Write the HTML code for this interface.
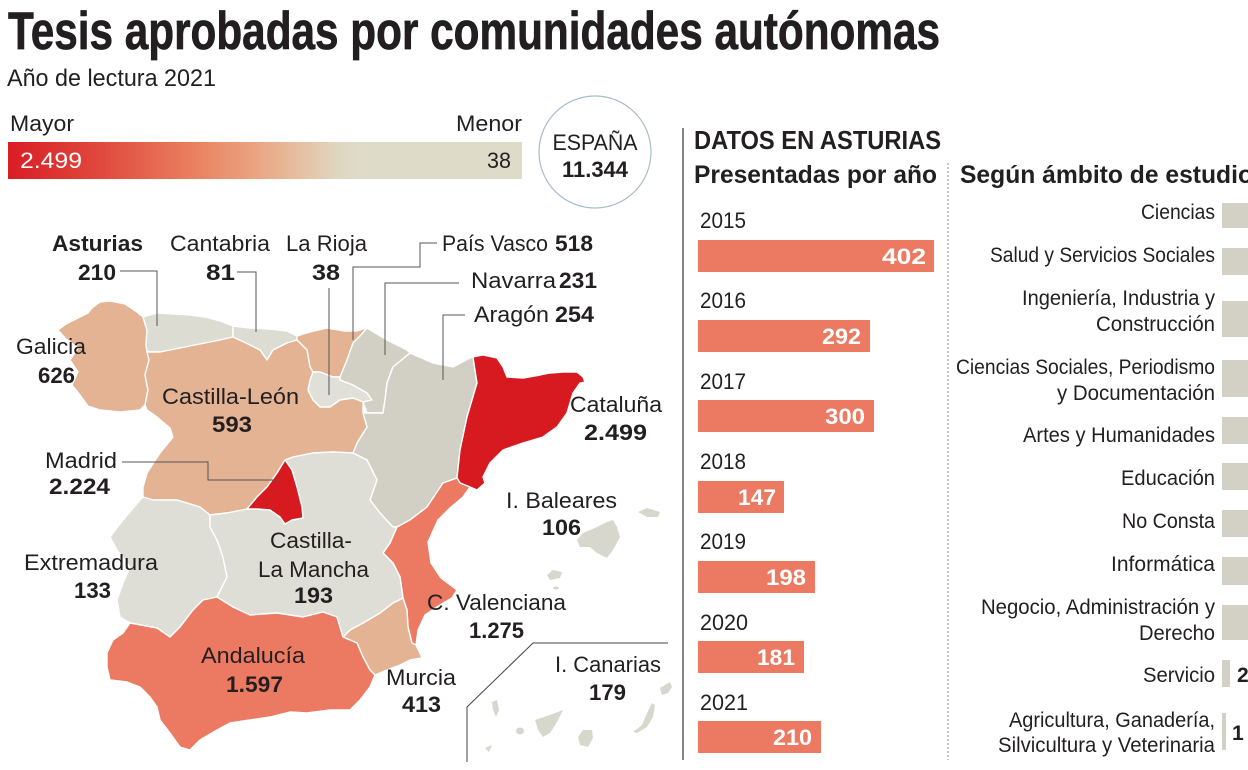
<!DOCTYPE html>
<html>
<head>
<meta charset="utf-8">
<style>
html,body{margin:0;padding:0;background:#fff;}
body{width:1248px;height:770px;overflow:hidden;}
svg{display:block;}
text{font-family:"Liberation Sans",Arial,sans-serif;fill:#231f20;}
.b{font-weight:bold;}
.w{fill:#fff;}
</style>
</head>
<body>
<svg width="1248" height="770" viewBox="0 0 1248 770" xmlns="http://www.w3.org/2000/svg">
<defs>
<linearGradient id="g" x1="0" y1="0" x2="1" y2="0">
<stop offset="0" stop-color="#d91d25"/>
<stop offset="0.18" stop-color="#e0493d"/>
<stop offset="0.36" stop-color="#e9805f"/>
<stop offset="0.50" stop-color="#e9aa88"/>
<stop offset="0.58" stop-color="#e5c3a6"/>
<stop offset="0.64" stop-color="#dfd6c1"/>
<stop offset="0.68" stop-color="#dfdbc9"/>
<stop offset="1" stop-color="#dfdbc9"/>
</linearGradient>
</defs>

<!-- Title -->
<text x="8" y="49" font-size="53" class="b" textLength="932" lengthAdjust="spacingAndGlyphs" fill="#1a1a1a" stroke="#1a1a1a" stroke-width="0.7">Tesis aprobadas por comunidades autónomas</text>
<text x="7" y="86" font-size="24" textLength="209" lengthAdjust="spacingAndGlyphs">Año de lectura 2021</text>

<!-- Legend -->
<text x="10" y="131" font-size="22" textLength="64" lengthAdjust="spacingAndGlyphs">Mayor</text>
<text x="522" y="131" font-size="22" text-anchor="end" textLength="66" lengthAdjust="spacingAndGlyphs">Menor</text>
<rect x="8" y="142" width="514" height="37" fill="url(#g)"/>
<text x="20" y="168" font-size="22" class="w" textLength="62" lengthAdjust="spacingAndGlyphs">2.499</text>
<text x="511" y="168" font-size="22" text-anchor="end" textLength="24" lengthAdjust="spacingAndGlyphs" fill="#333">38</text>

<circle cx="595" cy="152" r="56" fill="none" stroke="#a9bcc8" stroke-width="1.2"/>
<text x="595" y="150" font-size="22" text-anchor="middle" textLength="85" lengthAdjust="spacingAndGlyphs">ESPAÑA</text>
<text x="595" y="177" font-size="22" class="b" text-anchor="middle" textLength="66" lengthAdjust="spacingAndGlyphs">11.344</text>

<!-- Map -->
<g stroke="#fff" stroke-width="1.4" stroke-linejoin="round">
<path fill="#e3b393" d="M92,308 L100,302 L110,301 L125,304 L137,312 L143,317 L147,330 L146,345 L149,360 L145,375 L148,390 L145,405 L140,410 L120,412 L100,410 L88,406 L80,395 L72,385 L78,372 L70,360 L78,348 L65,338 L58,330 L66,324 L78,318 L88,313 Z"/>
<path fill="#dddcd3" d="M143,317 L157,313 L175,314 L190,315 L205,317 L220,321 L233,326 L233,337 L220,340 L205,343 L190,346 L175,349 L160,352 L147,352 L146,345 L147,330 Z"/>
<path fill="#dddcd3" d="M233,326 L250,328 L270,329 L287,331 L297,336 L297,340 L287,343 L273,350 L267,360 L260,350 L248,344 L233,337 Z"/>
<path fill="#e3b393" d="M297,336 L310,332 L327,328 L345,331 L357,331 L367,328 L360,336 L353,343 L347,360 L340,377 L333,377 L320,372 L313,372 L310,367 L307,350 L297,340 Z"/>
<path fill="#e0dfd8" d="M313,372 L320,372 L333,377 L340,377 L340,380 L353,385 L367,393 L372,400 L363,402 L353,398 L340,400 L330,407 L320,407 L313,400 L308,390 L310,380 Z"/>
<path fill="#d2d0c5" d="M367,328 L387,340 L407,350 L410,353 L393,367 L387,383 L385,400 L383,413 L367,413 L363,402 L372,400 L367,393 L353,385 L340,380 L340,377 L347,360 L353,343 L360,336 Z"/>
<path fill="#d2d0c5" d="M410,353 L433,363 L453,367 L470,358 L473,357 L477,383 L467,417 L460,450 L457,478 L443,483 L427,507 L410,520 L397,527 L393,527 L380,513 L370,500 L377,480 L367,460 L353,453 L357,443 L367,427 L363,413 L367,413 L383,413 L385,400 L387,383 L393,367 Z"/>
<path fill="#d71920" d="M473,357 L483,355 L497,358 L503,367 L507,377 L523,378 L540,375 L550,373 L563,372 L577,372 L583,377 L585,382 L580,383 L573,393 L567,413 L557,427 L543,437 L523,443 L503,450 L490,463 L483,477 L485,483 L477,490 L470,487 L460,483 L457,478 L460,450 L467,417 L477,383 Z"/>
<path fill="#ec7a62" d="M457,478 L460,483 L470,487 L463,497 L450,508 L438,520 L428,542 L431,563 L441,578 L457,590 L452,598 L440,605 L425,615 L418,630 L416,645 L412,643 L408,627 L407,610 L403,598 L400,577 L393,563 L383,553 L390,543 L397,527 L410,520 L427,507 L443,483 Z"/>
<path fill="#e3b393" d="M403,598 L407,610 L408,627 L412,643 L416,645 L420,653 L422,658 L410,660 L400,665 L387,670 L375,675 L370,670 L363,657 L357,643 L343,637 L350,630 L363,623 L380,613 L393,603 Z"/>
<path fill="#e3b393" d="M147,352 L160,352 L175,349 L190,346 L205,343 L220,340 L233,337 L248,344 L260,350 L267,360 L273,350 L287,343 L297,340 L307,350 L310,367 L313,372 L310,380 L308,390 L313,400 L320,407 L330,407 L340,400 L353,398 L363,402 L363,413 L367,427 L357,443 L353,453 L333,452 L313,453 L293,457 L285,460 L277,473 L267,487 L257,497 L247,509 L227,513 L210,515 L200,507 L177,500 L153,500 L143,497 L143,487 L147,473 L160,453 L173,437 L170,428 L157,417 L147,410 L145,405 L148,390 L145,375 L149,360 Z"/>
<path fill="#dfded6" d="M143,497 L153,500 L177,500 L200,507 L210,515 L210,527 L217,540 L223,557 L227,577 L217,597 L203,600 L193,610 L180,627 L170,637 L157,628 L130,623 L120,617 L117,600 L123,583 L130,567 L117,550 L110,537 L123,520 L140,500 Z"/>
<path fill="#dfded6" d="M210,515 L227,513 L247,509 L257,509 L270,510 L280,517 L285,524 L292,520 L303,518 L302,507 L297,487 L292,470 L285,460 L293,457 L313,453 L333,452 L353,453 L367,460 L377,480 L370,500 L380,513 L393,527 L397,527 L390,543 L383,553 L393,563 L400,577 L403,598 L393,603 L380,613 L363,623 L350,630 L343,637 L340,627 L337,617 L323,612 L303,617 L277,613 L250,615 L233,607 L217,597 L227,577 L223,557 L217,540 L210,527 Z"/>
<path fill="#d71920" d="M285,460 L292,470 L297,487 L302,507 L303,518 L292,520 L285,524 L280,517 L270,510 L257,509 L247,509 L257,497 L267,487 L277,473 Z"/>
<path fill="#ec7a62" d="M130,623 L157,628 L170,637 L180,627 L193,610 L203,600 L217,597 L233,607 L250,615 L277,613 L303,617 L323,612 L337,617 L340,627 L343,637 L357,643 L363,657 L370,670 L375,675 L370,687 L360,700 L350,710 L330,710 L307,713 L290,712 L270,717 L250,720 L230,723 L217,730 L200,740 L190,750 L180,747 L170,733 L160,720 L157,707 L150,697 L140,687 L127,682 L110,680 L107,667 L107,653 L113,640 L123,633 Z"/>
</g>

<!-- Balearics -->
<g fill="#d8d7cd">
<path d="M583,533 L597,527 L607,522 L613,520 L617,527 L620,537 L613,550 L607,558 L597,553 L590,547 L580,547 L577,540 Z"/>
<path d="M638,512 L647,508 L660,512 L658,517 L647,517 Z"/>
<path d="M547,575 L553,570 L562,572 L560,578 L550,580 Z"/>
<ellipse cx="556" cy="588" rx="3" ry="1.5"/>
</g>

<!-- Canarias box -->
<polyline points="467,762 467,707 533,643 668,643" fill="none" stroke="#444" stroke-width="1"/>
<g fill="#d8d7cc">
<path d="M660,688 L665,685 L670,682 L672,687 L668,693 L662,695 Z"/>
<path d="M652,703 L655,705 L653,717 L647,727 L637,733 L633,732 L642,725 L647,713 Z"/>
<path d="M583,730 L592,730 L593,738 L588,747 L580,745 L578,737 Z"/>
<path d="M535,720 L550,715 L563,710 L557,722 L550,733 L543,737 L538,730 Z"/>
<ellipse cx="520" cy="731" rx="4" ry="3.5"/>
<path d="M492,702 L497,700 L499,710 L496,717 L493,710 Z"/>
<path d="M485,748 L492,745 L489,752 Z"/>
</g>

<!-- Leader lines -->
<g fill="none" stroke="#555" stroke-width="1">
<polyline points="120,271 157,271 157,326"/>
<polyline points="237,272 256,272 256,332"/>
<polyline points="329,288 329,395"/>
<polyline points="437,243 420,243 420,267 353,267 353,340"/>
<polyline points="459,283 385,283 385,355"/>
<polyline points="465,315 443,315 443,380"/>
<polyline points="122,462 208,462 208,480 280,480"/>
</g>

<!-- Map labels -->
<g font-size="22">
<text x="52" y="251" class="b" textLength="91" lengthAdjust="spacingAndGlyphs">Asturias</text>
<text x="78" y="280" class="b" textLength="38" lengthAdjust="spacingAndGlyphs">210</text>
<text x="170" y="251" textLength="100" lengthAdjust="spacingAndGlyphs">Cantabria</text>
<text x="206" y="280" class="b" textLength="29" lengthAdjust="spacingAndGlyphs">81</text>
<text x="286" y="251" textLength="81" lengthAdjust="spacingAndGlyphs">La Rioja</text>
<text x="312" y="280" class="b" textLength="28" lengthAdjust="spacingAndGlyphs">38</text>
<text x="442" y="251" textLength="106" lengthAdjust="spacingAndGlyphs">País Vasco</text>
<text x="555" y="251" class="b" textLength="38" lengthAdjust="spacingAndGlyphs">518</text>
<text x="471" y="288" textLength="85" lengthAdjust="spacingAndGlyphs">Navarra</text>
<text x="559" y="288" class="b" textLength="38" lengthAdjust="spacingAndGlyphs">231</text>
<text x="474" y="322" textLength="75" lengthAdjust="spacingAndGlyphs">Aragón</text>
<text x="555" y="322" class="b" textLength="39" lengthAdjust="spacingAndGlyphs">254</text>
<text x="16" y="354" textLength="70" lengthAdjust="spacingAndGlyphs">Galicia</text>
<text x="38" y="383" class="b" textLength="37" lengthAdjust="spacingAndGlyphs">626</text>
<text x="162" y="404" textLength="137" lengthAdjust="spacingAndGlyphs">Castilla-León</text>
<text x="212" y="432" class="b" textLength="40" lengthAdjust="spacingAndGlyphs">593</text>
<text x="45" y="468" textLength="72" lengthAdjust="spacingAndGlyphs">Madrid</text>
<text x="49" y="494" class="b" textLength="61" lengthAdjust="spacingAndGlyphs">2.224</text>
<text x="570" y="412" textLength="92" lengthAdjust="spacingAndGlyphs">Cataluña</text>
<text x="584" y="440" class="b" textLength="63" lengthAdjust="spacingAndGlyphs">2.499</text>
<text x="506" y="508" textLength="111" lengthAdjust="spacingAndGlyphs">I. Baleares</text>
<text x="542" y="535" class="b" textLength="39" lengthAdjust="spacingAndGlyphs">106</text>
<text x="24" y="570" textLength="134" lengthAdjust="spacingAndGlyphs">Extremadura</text>
<text x="74" y="598" class="b" textLength="37" lengthAdjust="spacingAndGlyphs">133</text>
<text x="270" y="548" textLength="82" lengthAdjust="spacingAndGlyphs">Castilla-</text>
<text x="258" y="577" textLength="111" lengthAdjust="spacingAndGlyphs">La Mancha</text>
<text x="294" y="603" class="b" textLength="39" lengthAdjust="spacingAndGlyphs">193</text>
<text x="427" y="610" textLength="139" lengthAdjust="spacingAndGlyphs">C. Valenciana</text>
<text x="469" y="638" class="b" textLength="55" lengthAdjust="spacingAndGlyphs">1.275</text>
<text x="201" y="663" textLength="104" lengthAdjust="spacingAndGlyphs">Andalucía</text>
<text x="226" y="692" class="b" textLength="57" lengthAdjust="spacingAndGlyphs">1.597</text>
<text x="386" y="685" textLength="70" lengthAdjust="spacingAndGlyphs">Murcia</text>
<text x="402" y="712" class="b" textLength="39" lengthAdjust="spacingAndGlyphs">413</text>
<text x="555" y="672" textLength="106" lengthAdjust="spacingAndGlyphs">I. Canarias</text>
<text x="589" y="700" class="b" textLength="37" lengthAdjust="spacingAndGlyphs">179</text>
</g>

<!-- Right section -->
<line x1="683" y1="128" x2="683" y2="760" stroke="#333" stroke-width="1.2"/>
<line x1="948" y1="163" x2="948" y2="760" stroke="#888" stroke-width="1" stroke-dasharray="2,2"/>
<text x="694" y="149" font-size="26" class="b" textLength="247" lengthAdjust="spacingAndGlyphs">DATOS EN ASTURIAS</text>
<text x="694" y="183" font-size="25" class="b" textLength="243" lengthAdjust="spacingAndGlyphs">Presentadas por año</text>
<text x="960" y="183" font-size="25" class="b" textLength="293" lengthAdjust="spacingAndGlyphs">Según ámbito de estudio</text>

<!-- Year bars -->
<g fill="#ec7a62">
<rect x="698" y="240" width="236" height="32"/>
<rect x="698" y="320" width="172" height="32"/>
<rect x="698" y="400" width="176" height="32"/>
<rect x="698" y="481" width="86" height="32"/>
<rect x="698" y="561" width="117" height="32"/>
<rect x="698" y="641" width="106" height="32"/>
<rect x="698" y="721" width="123" height="32"/>
</g>
<g font-size="22">
<text x="700" y="228" textLength="46" lengthAdjust="spacingAndGlyphs">2015</text>
<text x="700" y="308" textLength="46" lengthAdjust="spacingAndGlyphs">2016</text>
<text x="700" y="389" textLength="46" lengthAdjust="spacingAndGlyphs">2017</text>
<text x="700" y="469" textLength="46" lengthAdjust="spacingAndGlyphs">2018</text>
<text x="700" y="549" textLength="46" lengthAdjust="spacingAndGlyphs">2019</text>
<text x="700" y="630" textLength="48" lengthAdjust="spacingAndGlyphs">2020</text>
<text x="700" y="710" textLength="48" lengthAdjust="spacingAndGlyphs">2021</text>
</g>
<g font-size="22" class="b">
<text x="926" y="264" text-anchor="end" class="b w" textLength="44" lengthAdjust="spacingAndGlyphs">402</text>
<text x="861" y="344" text-anchor="end" class="b w" textLength="39" lengthAdjust="spacingAndGlyphs">292</text>
<text x="865" y="424" text-anchor="end" class="b w" textLength="40" lengthAdjust="spacingAndGlyphs">300</text>
<text x="776" y="505" text-anchor="end" class="b w" textLength="38" lengthAdjust="spacingAndGlyphs">147</text>
<text x="806" y="585" text-anchor="end" class="b w" textLength="40" lengthAdjust="spacingAndGlyphs">198</text>
<text x="795" y="665" text-anchor="end" class="b w" textLength="38" lengthAdjust="spacingAndGlyphs">181</text>
<text x="812" y="745" text-anchor="end" class="b w" textLength="39" lengthAdjust="spacingAndGlyphs">210</text>
</g>

<!-- Ámbito bars -->
<g fill="#d3d1c5">
<rect x="1222" y="203" width="30" height="25"/>
<rect x="1222" y="248" width="30" height="27"/>
<rect x="1222" y="301" width="30" height="36"/>
<rect x="1222" y="360" width="30" height="37"/>
<rect x="1222" y="417" width="30" height="27"/>
<rect x="1222" y="463" width="30" height="27"/>
<rect x="1222" y="510" width="30" height="27"/>
<rect x="1222" y="557" width="30" height="28"/>
<rect x="1222" y="605" width="30" height="35"/>
<rect x="1222" y="660" width="8" height="27"/>
<rect x="1222" y="713" width="4" height="37"/>
</g>
<g font-size="21" text-anchor="end">
<text x="1215" y="219" textLength="74" lengthAdjust="spacingAndGlyphs">Ciencias</text>
<text x="1215" y="262" textLength="225" lengthAdjust="spacingAndGlyphs">Salud y Servicios Sociales</text>
<text x="1215" y="305" textLength="193" lengthAdjust="spacingAndGlyphs">Ingeniería, Industria y</text>
<text x="1215" y="331" textLength="119" lengthAdjust="spacingAndGlyphs">Construcción</text>
<text x="1215" y="374" textLength="259" lengthAdjust="spacingAndGlyphs">Ciencias Sociales, Periodismo</text>
<text x="1215" y="400" textLength="158" lengthAdjust="spacingAndGlyphs">y Documentación</text>
<text x="1215" y="442" textLength="192" lengthAdjust="spacingAndGlyphs">Artes y Humanidades</text>
<text x="1215" y="485" textLength="94" lengthAdjust="spacingAndGlyphs">Educación</text>
<text x="1215" y="528" textLength="93" lengthAdjust="spacingAndGlyphs">No Consta</text>
<text x="1215" y="571" textLength="104" lengthAdjust="spacingAndGlyphs">Informática</text>
<text x="1215" y="614" textLength="234" lengthAdjust="spacingAndGlyphs">Negocio, Administración y</text>
<text x="1215" y="640" textLength="76" lengthAdjust="spacingAndGlyphs">Derecho</text>
<text x="1215" y="682" textLength="72" lengthAdjust="spacingAndGlyphs">Servicio</text>
<text x="1215" y="727" textLength="206" lengthAdjust="spacingAndGlyphs">Agricultura, Ganadería,</text>
<text x="1215" y="752" textLength="217" lengthAdjust="spacingAndGlyphs">Silvicultura y Veterinaria</text>
</g>
<text x="1237" y="682" font-size="21" class="b">2</text>
<text x="1232" y="740" font-size="21" class="b">1</text>
</svg>
</body>
</html>
